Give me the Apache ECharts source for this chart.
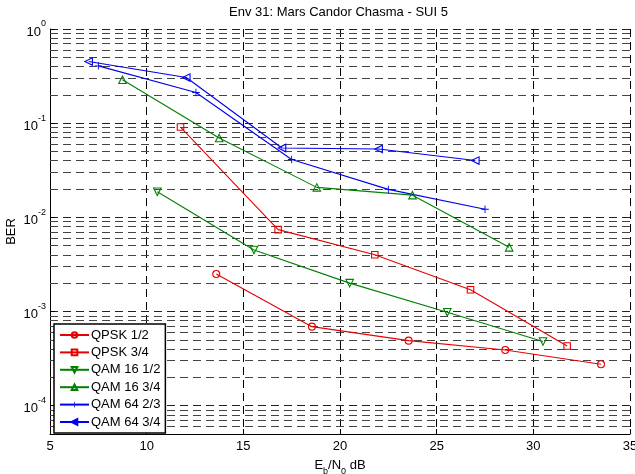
<!DOCTYPE html>
<html>
<head>
<meta charset="utf-8">
<script src="https://cdn.jsdelivr.net/npm/echarts@6/dist/echarts.min.js"></script>
<style>
html,body{margin:0;padding:0;background:#fff;}
#chart{width:635px;height:474px;}
</style>
</head>
<body>
<div id="chart"></div>
<script>
// ---- data ----
const seriesNames = ['QPSK 1/2', 'QPSK 3/4', 'QAM 16 1/2', 'QAM 16 3/4', 'QAM 64 2/3', 'QAM 64 3/4'];
const qpsk12X = [13.6, 18.55, 23.55, 28.55, 33.5];
const qpsk12Y = [2.5e-3, 6.9e-4, 4.9e-4, 3.9e-4, 2.75e-4];
const qpsk34X = [11.75, 16.8, 21.8, 26.75, 31.75];
const qpsk34Y = [0.091, 7.4e-3, 4.0e-3, 1.7e-3, 4.3e-4];
const qam16_12X = [10.55, 15.55, 20.5, 25.55, 30.5];
const qam16_12Y = [0.0187, 4.5e-3, 2.0e-3, 9.8e-4, 4.8e-4];
const qam16_34X = [8.75, 13.75, 18.8, 23.75, 28.75];
const qam16_34Y = [0.289, 0.0696, 0.0208, 0.0172, 4.8e-3];
const qam64_23X = [7.5, 12.55, 17.5, 22.5, 27.5];
const qam64_23Y = [0.406, 0.212, 0.0411, 0.0198, 0.0122];
const qam64_34X = [7.0, 12.05, 17.0, 22.0, 27.0];
const qam64_34Y = [0.451, 0.305, 0.0545, 0.0532, 0.0401];
const xTicks = [5, 10, 15, 20, 25, 30, 35];
const yDecades = [1e-4, 1e-3, 1e-2, 1e-1, 1];
const yMin = 5e-5, yMax = 1;

// minor grid values (2..9 x 10^k) within the axis range
const minorGrid = [];
[-5, -4, -3, -2, -1].forEach(function (k) {
  for (let m = 2; m <= 9; m++) {
    const v = m * Math.pow(10, k);
    if (v > yMin * 1.0001 && v < yMax) minorGrid.push(v);
  }
});

const FONT = 'Liberation Sans, Arial, Helvetica, sans-serif';
const pair = (xs, ys) => xs.map((x, i) => [x, ys[i]]);
const plusPath = 'path://M4.4,0H5.6V4.4H10V5.6H5.6V10H4.4V5.6H0V4.4H4.4Z';

function mk(name, xs, ys, color, symbol, rotate, size, filled) {
  return {
    name: name,
    type: 'line',
    data: pair(xs, ys),
    symbol: symbol,
    symbolRotate: rotate,
    symbolSize: size,
    showAllSymbol: true,
    z: 5,
    lineStyle: { color: color, width: 1.1 },
    itemStyle: filled ? { color: color, borderColor: color, borderWidth: 0 }
                      : { color: 'rgba(255,255,255,0)', borderColor: color, borderWidth: 1.1 },
    emphasis: { disabled: true },
    animation: false
  };
}

const chart = echarts.init(document.getElementById('chart'), null, { renderer: 'canvas' });

function supLabel(v) {
  const e = Math.round(Math.log10(v));
  if (Math.abs(Math.log10(v) - e) > 1e-6) return '';
  return '{b|10}{e|' + e + '}';
}

const option = {
  backgroundColor: '#fff',
  animation: false,
  textStyle: { fontFamily: FONT },
  title: {
    text: 'Env 31: Mars Candor Chasma - SUI 5',
    left: 229, top: 6,
    padding: 0,
    textStyle: { fontFamily: FONT, fontSize: 13, fontWeight: 'normal', color: '#000' }
  },
  grid: { left: 50, right: 5, top: 29, bottom: 40, containLabel: false, outerBoundsMode: 'none' },
  legend: {
    orient: 'vertical',
    left: 54, top: 324,
    data: seriesNames,
    backgroundColor: '#fff',
    borderColor: '#000',
    borderWidth: 1.5,
    borderRadius: 0,
    padding: [4, 5, 4, 5],
    itemWidth: 29,
    itemHeight: 7,
    itemGap: 3.4,
    textStyle: { fontFamily: FONT, fontSize: 13, color: '#000', lineHeight: 14, padding: [0, 0, 0, -3] },
    selectedMode: false,
    z: 10
  },
  xAxis: {
    type: 'value',
    min: 5, max: 35, interval: 5,
    axisLine: { show: true, onZero: false, lineStyle: { color: '#000', width: 1 } },
    axisTick: { show: true, inside: true, length: 5, lineStyle: { color: '#000' } },
    axisLabel: { color: '#000', fontSize: 13, fontFamily: FONT, margin: 6,
      formatter: function (v) { return xTicks.indexOf(v) >= 0 ? String(v) : ''; } },
    splitLine: { show: true, lineStyle: { color: '#000', type: [8, 5], width: 1 } },
    name: '{n|E}{s|b}{n|/N}{s|0}{n| dB}',
    nameLocation: 'middle',
    nameGap: 25,
    nameTextStyle: {
      color: '#000',
      rich: {
        n: { fontFamily: FONT, fontSize: 13, color: '#000', verticalAlign: 'top' },
        s: { fontFamily: FONT, fontSize: 9, color: '#000', verticalAlign: 'bottom', padding: [8, 0, 0, 0] }
      }
    }
  },
  yAxis: {
    type: 'log',
    logBase: 10,
    min: yMin, max: yMax,
    axisLine: { show: true, onZero: false, lineStyle: { color: '#000', width: 1 } },
    axisTick: { show: true, inside: true, length: 5, lineStyle: { color: '#000' } },
    axisLabel: {
      color: '#000', margin: 4,
      formatter: supLabel,
      rich: {
        b: { fontFamily: FONT, fontSize: 13, color: '#000', verticalAlign: 'bottom', padding: [6, 0, 0, 0] },
        e: { fontFamily: FONT, fontSize: 9, color: '#000', verticalAlign: 'top' }
      }
    },
    splitLine: { show: true, lineStyle: { color: '#222', type: [8, 5], width: 1 } },
    name: 'BER',
    nameLocation: 'middle',
    nameGap: 32,
    nameMoveOverlap: false,
    nameTextStyle: { fontFamily: FONT, fontSize: 13, color: '#000' }
  },
  series: [
    {
      name: '_grid',
      type: 'line',
      data: [],
      silent: true,
      z: 1,
      markLine: {
        silent: true,
        symbol: ['none', 'none'],
        label: { show: false },
        animation: false,
        lineStyle: { color: '#444', type: [8, 5], width: 1 },
        data: minorGrid.map(function (v) {
          return [{ coord: [5, v] }, { coord: [35, v] }];
        })
      }
    },
    mk('QPSK 1/2', qpsk12X, qpsk12Y, '#e80000', 'circle', 0, 7, false),
    mk('QPSK 3/4', qpsk34X, qpsk34Y, '#e80000', 'rect', 0, 6.5, false),
    mk('QAM 16 1/2', qam16_12X, qam16_12Y, '#008000', 'triangle', 180, 7.5, false),
    mk('QAM 16 3/4', qam16_34X, qam16_34Y, '#008000', 'triangle', 0, 7.5, false),
    mk('QAM 64 2/3', qam64_23X, qam64_23Y, '#0000ee', plusPath, 0, 7.5, true),
    mk('QAM 64 3/4', qam64_34X, qam64_34Y, '#0000ee', 'triangle', 90, 7.5, false)
  ]
};
chart.setOption(option);
</script>
</body>
</html>
